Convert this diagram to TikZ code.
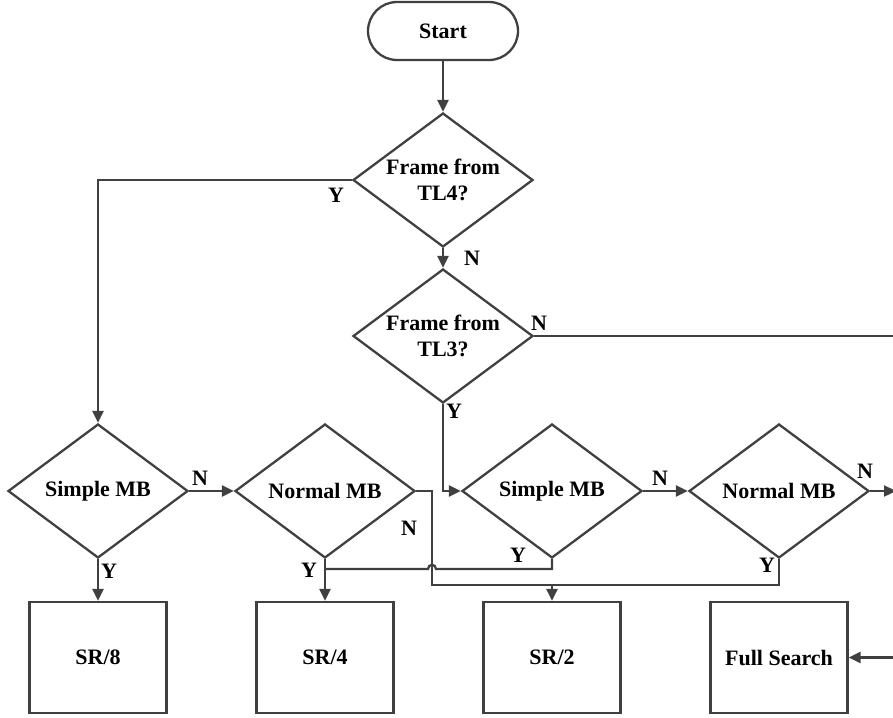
\documentclass[tikz,border=0pt]{standalone}
\usepackage{fontspec}
\setmainfont{Liberation Serif}
\usetikzlibrary{shapes.geometric,arrows.meta}

\definecolor{linegray}{HTML}{404040}
\newcommand\flowfont{\fontsize{22}{26.5}\selectfont\bfseries}

\tikzset{
  flow/.style={draw=linegray, line width=2.3pt},
  arrow/.style={flow, -{Triangle[length=12pt,width=11pt]}},
  terminal/.style={draw=linegray, line width=2.3pt, rectangle, rounded corners=29pt,
    minimum width=150pt, minimum height=58pt, inner sep=0pt, font=\flowfont},
  decision/.style={draw=linegray, line width=2.3pt, diamond, aspect=1.343,
    minimum width=180pt, minimum height=134pt, inner sep=0pt, align=center, font=\flowfont},
  process/.style={draw=linegray, line width=2.3pt, rectangle,
    minimum width=137pt, minimum height=111pt, inner sep=0pt, font=\flowfont},
  tag/.style={inner sep=0pt, font=\flowfont}
}

\begin{document}
\begin{tikzpicture}[x=1pt,y=-1pt]
\useasboundingbox (0,0) rectangle (893,717);
\clip (0,0) rectangle (893,717);

% blocks
\node[terminal] (start) at (443,31) {Start};
\node[decision] (tl4) at (443,180) {Frame from\\TL4?};
\node[decision] (tl3) at (443,336) {Frame from\\TL3?};
\node[decision] (s1) at (98,491) {Simple MB};
\node[decision] (n1) at (325,491) {Normal MB};
\node[decision] (s2) at (552,491) {Simple MB};
\node[decision] (n2) at (779,491) {Normal MB};
\node[process] (sr8) at (98,657.5) {SR/8};
\node[process] (sr4) at (325,657.5) {SR/4};
\node[process] (sr2) at (552,657.5) {SR/2};
\node[process] (fs) at (779,657.5) {Full Search};

% free ends and bends
\coordinate (tl3out) at (893,336);
\coordinate (n2out) at (896,491);
\coordinate (fsin) at (893,657.5);
\coordinate (mergeY) at (325,569);
\coordinate (nBend) at (432,585);
\coordinate (busY) at (779,585);
\coordinate (busTap) at (552,585);

% connectors
\draw[arrow] (start) -- (tl4);
\draw[arrow] (tl4.west) -| (s1.north);
\draw[arrow] (tl4) -- (tl3);
\draw[flow] (tl3.east) -- (tl3out);
\draw[arrow] (tl3.south) |- (s2.west);
\draw[arrow] (s1.east) -- (n1.west);
\draw[arrow] (s1.south) -- (sr8.north);
\draw[arrow] (n1.south) -- (sr4.north);
\draw[arrow] (s2.east) -- (n2.west);
\draw[arrow] (n2.east) -- (n2out);
\draw[arrow] (fsin) -- (fs.east);
\draw[flow] (s2.south) -- (552,569) -- (436,569)
  .. controls (436,563.5) and (428,563.5) .. (428,569) -- (mergeY);
\draw[flow] (n1.east) -| (nBend) -- (busY) -- (n2.south);
\draw[arrow] (busTap) -- (sr2.north);

% branch labels
\node[tag] (yTL4) at (336,195) {Y};
\node[tag] (nTL4) at (472,258) {N};
\node[tag] (nTL3) at (539,323) {N};
\node[tag] (yTL3) at (454,411) {Y};
\node[tag] (nS1) at (200,478) {N};
\node[tag] (yS1) at (109,571) {Y};
\node[tag] (nN1) at (409,528) {N};
\node[tag] (yN1) at (309,570) {Y};
\node[tag] (yS2) at (518,555) {Y};
\node[tag] (nS2) at (660,478) {N};
\node[tag] (nN2) at (865,471) {N};
\node[tag] (yN2) at (767,565) {Y};
\end{tikzpicture}
\end{document}
